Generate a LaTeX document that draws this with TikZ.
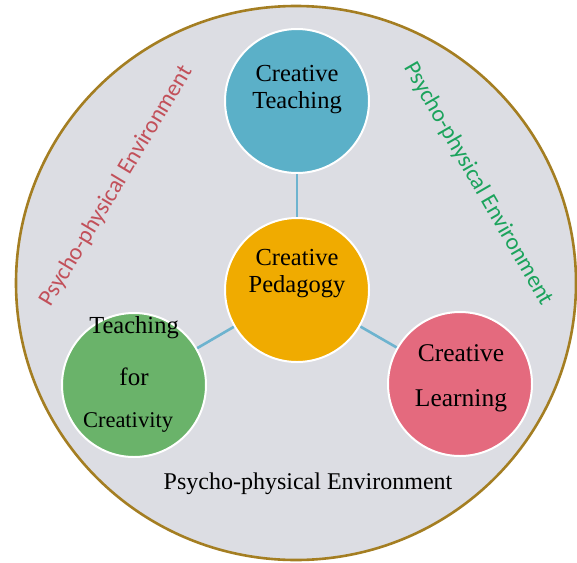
\documentclass[tikz,border=0pt]{standalone}
\usepackage{fontspec}
\setmainfont{Liberation Serif}
\newfontfamily\labelsans{Carlito}
\usetikzlibrary{shapes.geometric}
\definecolor{envfill}{HTML}{DCDDE3}
\definecolor{envedge}{HTML}{A47E22}
\definecolor{cteach}{HTML}{5BB0C8}
\definecolor{cpeda}{HTML}{F0AB00}
\definecolor{ccreat}{HTML}{6AB36A}
\definecolor{clearn}{HTML}{E46A7E}
\definecolor{linkc}{HTML}{6DB3CF}
\definecolor{redtxt}{HTML}{C2505A}
\definecolor{greentxt}{HTML}{1BA35C}
\tikzset{
  bubble/.style={circle, draw=white, line width=2pt, minimum size=144pt, inner sep=0pt, align=center},
  link/.style={draw=linkc, line width=2.6pt},
  sidetext/.style={font=\labelsans\fontsize{23.5}{28}\selectfont},
}
\begin{document}
\begin{tikzpicture}[x=1pt,y=-1pt]
\useasboundingbox (0,0) rectangle (577,562);
\node[ellipse, draw=envedge, fill=envfill, line width=2.6pt, minimum width=560pt, minimum height=554pt, inner sep=0pt] (env) at (296,283) {};
\coordinate (cT) at (297,101);
\coordinate (cP) at (297,290);
\coordinate (cC) at (134,385);
\coordinate (cL) at (460,384);
\draw[link] (cT) -- (cP);
\draw[link] (cP) -- (cC);
\draw[link] (cP) -- (cL);
\node[bubble, fill=cteach] (teach) at (cT) {};
\node[bubble, fill=cpeda] (peda) at (cP) {};
\node[bubble, fill=ccreat] (creat) at (cC) {};
\node[bubble, fill=clearn] (learn) at (cL) {};
\node[font=\fontsize{24.5}{27}\selectfont, align=center] (tteach) at (297,90) {Creative\\Teaching};
\node[font=\fontsize{24.5}{27}\selectfont, align=center] (tpeda) at (297,274) {Creative\\Pedagogy};
\node[font=\fontsize{24.5}{28}\selectfont] (tc1) at (134,328) {Teaching};
\node[font=\fontsize{25}{28}\selectfont] (tc2) at (134,377) {for};
\node[font=\fontsize{22.5}{26}\selectfont] (tc3) at (128,422) {Creativity};
\node[font=\fontsize{25.5}{28}\selectfont] (tl1) at (461,353) {Creative};
\node[font=\fontsize{25.5}{28}\selectfont] (tl2) at (461,401) {Learning};
\node[font=\fontsize{24}{26}\selectfont] (tbot) at (308,484) {Psycho-physical Environment};
\node[sidetext, text=redtxt, rotate=59] (tleft) at (116,186) {Psycho-physical Environment};
\node[sidetext, text=greentxt, rotate=-60] (tright) at (478,184) {Psycho-physical Environment};
\end{tikzpicture}
\end{document}
